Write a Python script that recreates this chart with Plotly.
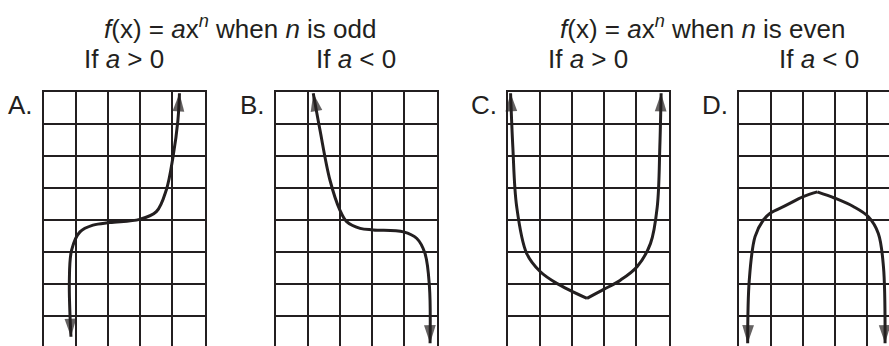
import plotly.graph_objects as go

# ---------------- data ----------------
group_titles = ["<i>f</i>(x) = <i>a</i>x<sup><i>n</i></sup> when <i>n</i> is odd",
                "<i>f</i>(x) = <i>a</i>x<sup><i>n</i></sup> when <i>n</i> is even"]
panel_labels = ["A.", "B.", "C.", "D."]
condition_labels = ["If <i>a</i> > 0", "If <i>a</i> < 0", "If <i>a</i> > 0", "If <i>a</i> < 0"]

grid_cols = 5
grid_rows = 8

# curve points in grid units (x: columns from left, y: rows from bottom)
a_x = [0.84, 0.79, 0.86, 1.12, 1.53, 2.05, 2.98, 3.50, 3.81, 4.02, 4.17, 4.22]
a_y = [0.35, 2.10, 3.06, 3.63, 3.84, 3.92, 4.02, 4.26, 4.94, 5.98, 7.10, 7.96]

b_x = [1.16, 1.37, 1.68, 1.99, 2.20, 2.62, 3.03, 3.97, 4.38, 4.64, 4.78, 4.80]
b_y = [7.96, 6.81, 5.25, 4.31, 3.95, 3.74, 3.69, 3.63, 3.43, 2.96, 1.92, 0.15]

c_x = [0.08, 0.15, 0.27, 0.58, 1.00, 1.52, 2.46, 2.98, 3.50, 4.02, 4.44, 4.65, 4.73, 4.77]
c_y = [7.96, 6.29, 4.42, 2.96, 2.39, 2.02, 1.55, 1.83, 2.12, 2.54, 3.27, 4.42, 6.29, 7.96]
c_kink = 6

d_x = [0.27, 0.32, 0.50, 0.76, 0.97, 1.49, 2.00, 2.44, 2.99, 3.56, 4.03, 4.34, 4.50, 4.55]
d_y = [0.15, 2.12, 3.48, 4.00, 4.21, 4.47, 4.73, 4.88, 4.68, 4.42, 4.10, 3.58, 2.54, 0.15]
d_kink = 7

curves = [(a_x, a_y, None), (b_x, b_y, None), (c_x, c_y, c_kink), (d_x, d_y, d_kink)]

# ---------------- layout constants ----------------
W, H = 889, 346
grid_left_px = [44, 276, 508, 739]
cell_w = 32.1
cell_h = 32.0
grid_top_px = 92
ink = "#231f20"
font_family = "Liberation Sans, Arial, sans-serif"
font_size = 26

fig = go.Figure()

for i, (xs, ys, kink) in enumerate(curves):
    ax = "" if i == 0 else str(i + 1)
    xref, yref = "x" + ax, "y" + ax
    segments = [(xs, ys)] if kink is None else [(xs[:kink + 1], ys[:kink + 1]), (xs[kink:], ys[kink:])]
    for sx, sy in segments:
        fig.add_trace(go.Scatter(x=sx, y=sy, mode="lines", xaxis=xref, yaxis=yref,
                                 line=dict(color=ink, width=3, shape="spline", smoothing=1),
                                 hoverinfo="skip", showlegend=False, cliponaxis=False))
    # arrowheads at both ends
    for px, py in [([xs[1], xs[0]], [ys[1], ys[0]]), ([xs[-2], xs[-1]], [ys[-2], ys[-1]])]:
        fig.add_trace(go.Scatter(x=px, y=py, mode="markers", xaxis=xref, yaxis=yref,
                                 marker=dict(symbol="arrow", size=[0, 19], color=ink,
                                             angleref="previous", line=dict(width=0)),
                                 hoverinfo="skip", showlegend=False, cliponaxis=False))

    left = grid_left_px[i]
    right = left + grid_cols * cell_w
    x1 = min(1.0, right / W)
    x_hi = (x1 * W - left) / cell_w
    clipped_right = right > W
    y_lo = (grid_top_px + grid_rows * cell_h - H) / cell_h
    axis_common = dict(showgrid=True, gridcolor=ink, gridwidth=1.6, dtick=1, tick0=0,
                       zeroline=False, showticklabels=False, ticks="",
                       linecolor=ink, linewidth=1.6, fixedrange=True)
    fig.update_layout(**{
        "xaxis" + ax: dict(domain=[left / W, x1], range=[0, x_hi], anchor=yref,
                           side="top", showline=True, mirror=False, **axis_common),
        "yaxis" + ax: dict(domain=[0, 1 - grid_top_px / H], range=[y_lo, grid_rows], anchor=xref,
                           showline=True, mirror=not clipped_right, **axis_common),
    })

    center_px = left + grid_cols * cell_w / 2
    fig.add_annotation(text=condition_labels[i], x=center_px / W, y=1 - 59 / H,
                       xref="paper", yref="paper", xanchor="center", yanchor="middle",
                       showarrow=False, font=dict(family=font_family, size=font_size, color=ink))
    fig.add_annotation(text=panel_labels[i], x=(left - 9) / W, y=1 - 105 / H,
                       xref="paper", yref="paper", xanchor="right", yanchor="middle",
                       showarrow=False, font=dict(family=font_family, size=font_size, color=ink))

title_centers_px = [240, 702]
for t, cx in zip(group_titles, title_centers_px):
    fig.add_annotation(text=t, x=cx / W, y=1 - 27 / H, xref="paper", yref="paper",
                       xanchor="center", yanchor="middle", showarrow=False,
                       font=dict(family=font_family, size=font_size, color=ink))

fig.update_layout(width=W, height=H, margin=dict(l=0, r=0, t=0, b=0),
                  paper_bgcolor="white", plot_bgcolor="white")

fig.write_html("out.html", config={"displayModeBar": False},
               post_script="document.body.style.margin='0';document.body.style.overflow='hidden';")
